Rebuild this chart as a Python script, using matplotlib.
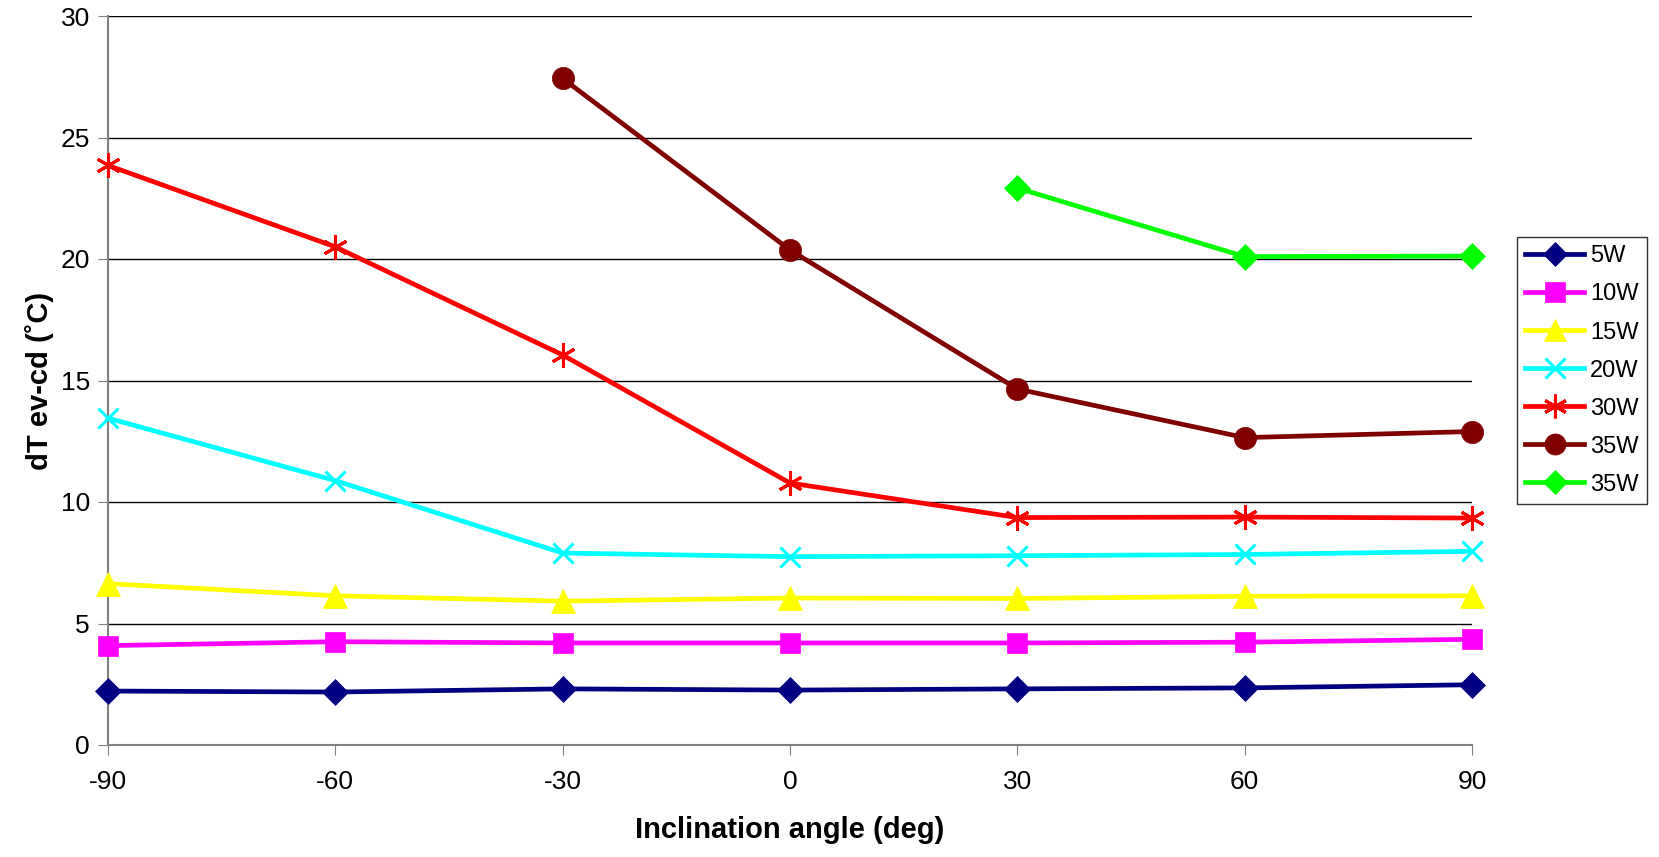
import numpy as np
import matplotlib.pyplot as plt

plt.rcParams['font.family'] = ['Liberation Sans', 'DejaVu Sans']
plt.rcParams['axes.unicode_minus'] = False

angles = [-90, -60, -30, 0, 30, 60, 90]

w5 = [2.22, 2.18, 2.31, 2.26, 2.31, 2.35, 2.48]
w10 = [4.09, 4.25, 4.20, 4.20, 4.20, 4.23, 4.35]
w15 = [6.64, 6.14, 5.92, 6.05, 6.03, 6.12, 6.14]
w20 = [13.45, 10.88, 7.90, 7.75, 7.79, 7.84, 7.97]
w30 = [23.85, 20.50, 16.05, 10.78, 9.36, 9.38, 9.34]
angles_35a = [-30, 0, 30, 60, 90]
w35a = [27.43, 20.37, 14.65, 12.65, 12.90]
angles_35b = [30, 60, 90]
w35b = [22.92, 20.10, 20.12]

series = [
    (angles, w5, '5W', '#000080', 'D', 13),
    (angles, w10, '10W', '#ff00ff', 's', 15),
    (angles, w15, '15W', '#ffff00', '^', 17),
    (angles, w20, '20W', '#00ffff', 'x', 15),
    (angles, w30, '30W', '#ff0000', (6, 2, 0), 18),
    (angles_35a, w35a, '35W', '#800000', 'o', 16),
    (angles_35b, w35b, '35W', '#00ff00', 'D', 13),
]

fig = plt.figure(figsize=(16.59, 8.57), dpi=100)
ax = fig.add_axes([108 / 1659, 1 - 745 / 857, 1364 / 1659, 729 / 857])

handles = []
for xs, ys, lab, col, mk, ms in series:
    h, = ax.plot(xs, ys, color=col, marker=mk, markersize=ms, linewidth=3.4,
                 markeredgewidth=2.2 if mk in ('x', (6, 2, 0)) else 0.5,
                 markeredgecolor=col, markerfacecolor=col, label=lab,
                 clip_on=False, zorder=3)
    handles.append(h)

ax.set_xlim(-90, 90)
ax.set_ylim(0, 30)
ax.set_xticks(angles)
ax.set_yticks(np.arange(0, 31, 5))
ax.grid(axis='y', color='black', linewidth=1)
ax.set_axisbelow(True)
for s in ['top', 'right']:
    ax.spines[s].set_visible(False)
ax.spines['left'].set_color('#808080')
ax.spines['bottom'].set_color('#808080')
ax.spines['left'].set_linewidth(1.5)
ax.spines['bottom'].set_linewidth(1.5)
ax.tick_params(axis='both', labelsize=19, length=7, color='#808080')
ax.tick_params(axis='x', pad=11)
ax.tick_params(axis='y', pad=6)

ax.set_xlabel('Inclination angle (deg)', fontsize=21, fontweight='bold', labelpad=16)
ax.set_ylabel('dT ev-cd (˚C)', fontsize=21, fontweight='bold', labelpad=5)

leg = fig.legend(handles=handles, loc='lower left',
                 bbox_to_anchor=(1517 / 1659, 1 - 504 / 857),
                 borderaxespad=0, fontsize=17, frameon=True, fancybox=False,
                 edgecolor='black', handlelength=2.5, borderpad=0.35,
                 labelspacing=0.68, handletextpad=0.25, markerscale=0.95)
leg.get_frame().set_linewidth(1)

fig.savefig('out.png', dpi=100)
